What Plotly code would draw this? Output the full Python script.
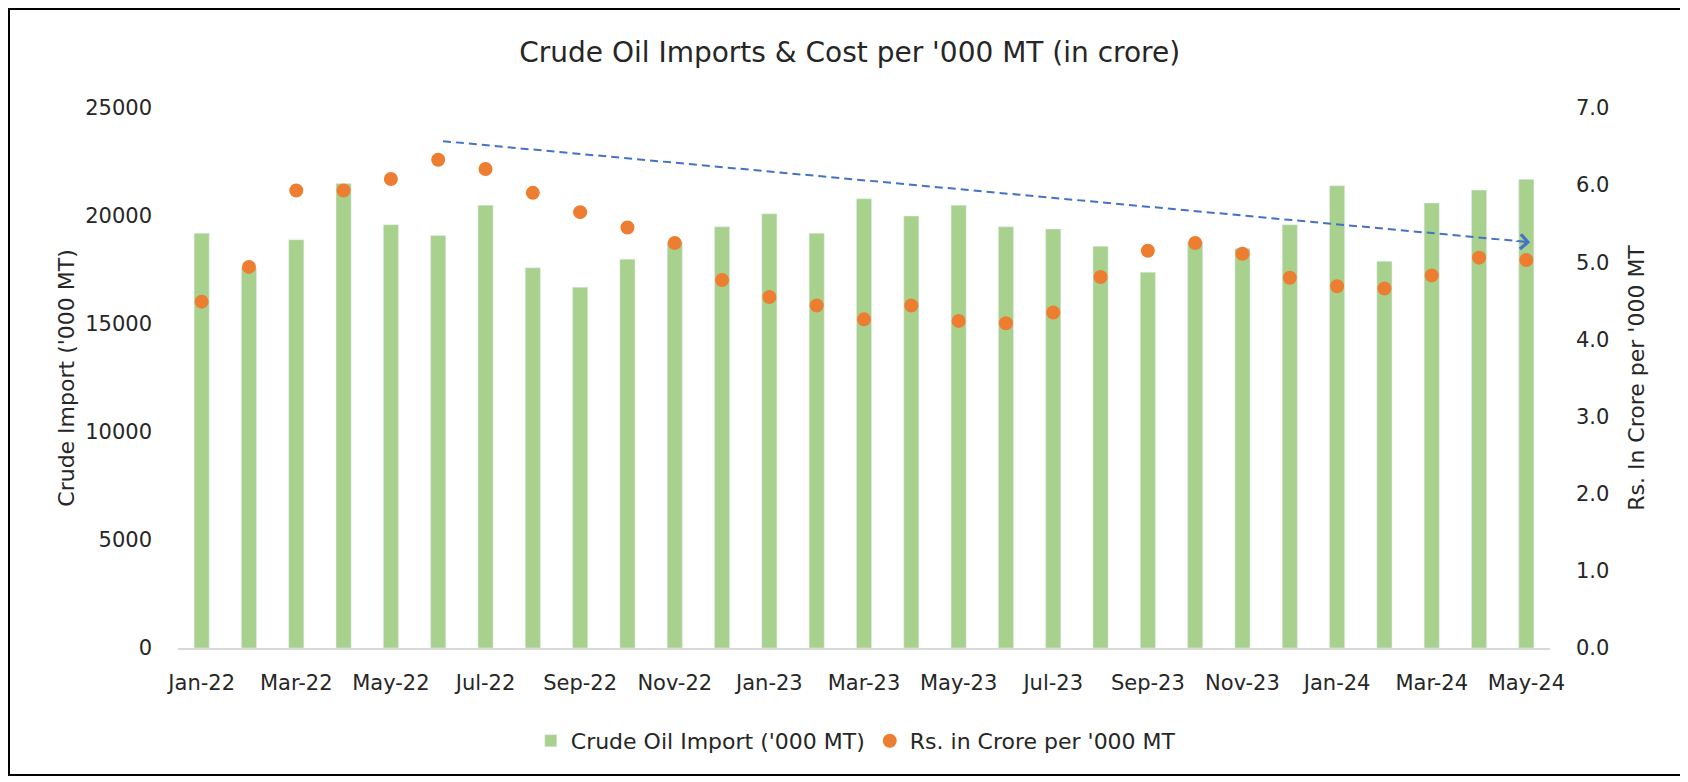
import plotly.graph_objs as go

# monthly data, Jan-22 .. May-24
months = ['Jan-22', 'Feb-22', 'Mar-22', 'Apr-22', 'May-22', 'Jun-22', 'Jul-22', 'Aug-22',
          'Sep-22', 'Oct-22', 'Nov-22', 'Dec-22', 'Jan-23', 'Feb-23', 'Mar-23', 'Apr-23',
          'May-23', 'Jun-23', 'Jul-23', 'Aug-23', 'Sep-23', 'Oct-23', 'Nov-23', 'Dec-23',
          'Jan-24', 'Feb-24', 'Mar-24', 'Apr-24', 'May-24']

crude_import = [19200, 17600, 18900, 21500, 19600, 19100, 20500, 17600,
                16700, 18000, 18800, 19500, 20100, 19200, 20800, 20000,
                20500, 19500, 19400, 18600, 17400, 18800, 18500, 19600,
                21400, 17900, 20600, 21200, 21700]

cost_per_kmt = [4.49, 4.94, 5.93, 5.93, 6.08, 6.33, 6.21, 5.90,
                5.65, 5.45, 5.25, 4.77, 4.55, 4.44, 4.26, 4.44,
                4.24, 4.21, 4.35, 4.81, 5.15, 5.25, 5.11, 4.80,
                4.69, 4.66, 4.83, 5.06, 5.03]

x_ticks = months[::2]

# trend arrow (category index, right-axis value)
trend_start = (5.1, 6.57)
trend_end = (28.08, 5.26)

FONT = 'DejaVu Sans'
TXT = '#262626'

# page body has an 8px margin, so the figure is 8px smaller each way
W, H = 1680, 774
L, R, T, B = 170, 138, 100, 134
pw, ph = W - L - R, H - T - B

bars = go.Bar(x = months, y = crude_import, name = "Crude Oil Import ('000 MT)",
              marker_color = '#A9D18E', hoverinfo = 'x+y')
dots = go.Scatter(x = months, y = cost_per_kmt, name = "Rs. in Crore per '000 MT",
                  mode = 'markers', yaxis = 'y2',
                  marker = dict(color = '#ED7D31', size = 14))

fig = go.Figure(data = [bars, dots])

fig.update_layout(
    width = W, height = H,
    paper_bgcolor = 'white', plot_bgcolor = 'white',
    font = dict(family = FONT, color = TXT, size = 21),
    margin = dict(l = L, r = R, t = T, b = B),
    bargap = 0.68,
    title = dict(text = "Crude Oil Imports & Cost per '000 MT (in crore)",
                 x = 0.501, xanchor = 'center', y = 0.943, yanchor = 'middle',
                 font = dict(size = 28, color = TXT)),
    xaxis = dict(type = 'category', tickvals = x_ticks, ticktext = x_ticks,
                 range = [-0.5, len(months) - 0.5],
                 showgrid = False, showline = True, linecolor = '#D9D9D9', linewidth = 2,
                 ticks = '', ticklabelstandoff = 15, tickangle = 0, zeroline = False),
    yaxis = dict(range = [0, 25000], dtick = 5000, tickformat = 'd', showgrid = False, zeroline = False,
                 ticks = '', ticklabelstandoff = 25,
                 title = dict(text = "Crude Import ('000 MT)", standoff = 4, font = dict(size = 22))),
    yaxis2 = dict(range = [0, 7], dtick = 1, tickformat = '.1f', overlaying = 'y', side = 'right',
                  showgrid = False, zeroline = False, ticks = '', ticklabelstandoff = 25,
                  title = dict(text = "Rs. In Crore per '000 MT", standoff = 20, font = dict(size = 22))),
    legend = dict(orientation = 'h', x = 0.494, xanchor = 'center', y = -0.172, yanchor = 'middle',
                  font = dict(size = 22), itemwidth = 30),
    showlegend = True,
)

# dashed trend line with open arrow head
fig.add_shape(type = 'line', xref = 'x', yref = 'y2',
              x0 = trend_start[0], y0 = trend_start[1], x1 = trend_end[0], y1 = trend_end[1],
              line = dict(color = '#4472C4', width = 2, dash = '8px,5px'))
fig.add_annotation(xref = 'x', yref = 'y2', x = trend_end[0], y = trend_end[1],
                   ax = -16, ay = -1, showarrow = True, arrowhead = 4, arrowsize = 2.6,
                   arrowwidth = 1.1, arrowcolor = '#4472C4', text = '')

# outer chart border
fig.add_shape(type = 'rect', xref = 'x domain', yref = 'y domain',
              x0 = (1 - L) / pw, x1 = (1673 - L) / pw,
              y0 = (T + ph - 767) / ph, y1 = (T + ph - 1) / ph,
              line = dict(color = 'black', width = 2))

fig.write_html("out.html")
